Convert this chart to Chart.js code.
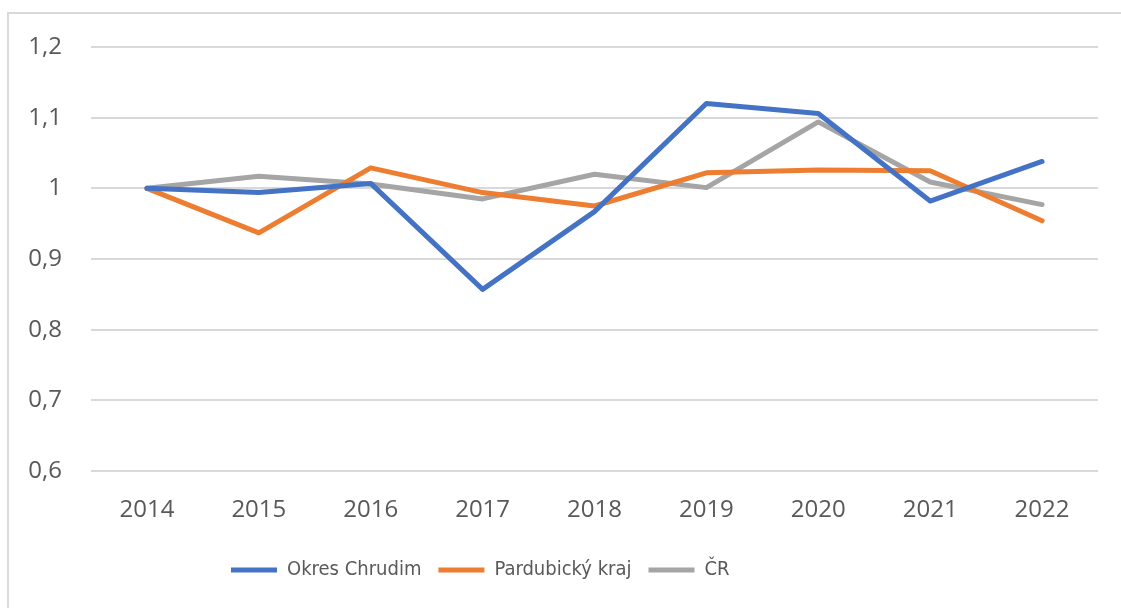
<!DOCTYPE html>
<html><head><meta charset="utf-8">
<script src="https://cdn.jsdelivr.net/npm/chart.js@4/dist/chart.umd.min.js"></script>
<style>
html,body{margin:0;padding:0;background:#fff;width:1121px;height:608px;overflow:hidden}
#frame{position:absolute;left:7px;top:12px;width:1130px;height:620px;border:2px solid #d9d9d9;box-sizing:border-box}
#c{position:absolute;left:0;top:0}
</style></head><body>
<div id="frame"></div>
<canvas id="c" width="1121" height="608"></canvas>
<script>
const years = ['2014','2015','2016','2017','2018','2019','2020','2021','2022'];
const okresChrudim = [1.000, 0.994, 1.007, 0.857, 0.967, 1.120, 1.106, 0.982, 1.038];
const pardubickyKraj = [1.000, 0.937, 1.029, 0.994, 0.975, 1.022, 1.026, 1.025, 0.954];
const cr = [1.000, 1.017, 1.006, 0.985, 1.020, 1.001, 1.094, 1.009, 0.977];
const seriesNames = ['Okres Chrudim', 'Pardubický kraj', 'ČR'];
const colors = ['#4472C4', '#ED7D31', '#A5A5A5'];

const font = "'Open Sans', 'Liberation Sans', sans-serif";
const legendFont = "'DejaVu Sans Condensed', 'Open Sans', sans-serif";
const mk = (label, data, color) => ({
  label, data, borderColor: color, backgroundColor: color,
  borderWidth: 5, pointRadius: 0, pointHoverRadius: 0, tension: 0,
  borderCapStyle: 'round', borderJoinStyle: 'round', fill: false
});
const legendShift = {
  id: 'legendShift',
  beforeDraw(chart) {
    const lg = chart.legend;
    if (lg && !lg._shifted) { const w = lg.right - lg.left; lg.left = 214; lg.right = 214 + w; lg._shifted = true; }
  }
};
new Chart(document.getElementById('c'), {
  type: 'line',
  data: {
    labels: years,
    datasets: [
      mk(seriesNames[0], okresChrudim, colors[0]),
      mk(seriesNames[1], pardubickyKraj, colors[1]),
      mk(seriesNames[2], cr, colors[2])
    ]
  },
  plugins: [legendShift],
  options: {
    responsive: false, animation: false,
    layout: { padding: { top: 47, right: 23, bottom: 18, left: 0 } },
    plugins: {
      tooltip: { enabled: false },
      legend: {
        position: 'bottom', align: 'start',
        labels: {
          usePointStyle: true, pointStyle: 'line', pointStyleWidth: 46,
          color: '#595959', font: { family: legendFont, size: 20 }, padding: 17
        }
      }
    },
    scales: {
      x: {
        offset: true,
        grid: { display: false }, border: { display: false },
        ticks: { color: '#595959', font: { family: font, size: 24 }, padding: 17, maxRotation: 0 },
        afterFit: (s) => { s.height = 72; }
      },
      y: {
        min: 0.6, max: 1.2,
        grid: { color: '#d9d9d9', lineWidth: 2, drawTicks: false }, border: { display: false },
        ticks: { stepSize: 0.1, color: '#595959', font: { family: font, size: 24 }, padding: 29,
          callback: (v) => (Math.round(v * 10) / 10).toString().replace('.', ',') },
        afterFit: (s) => { s.width = 91; }
      }
    }
  }
});
</script>
</body></html>
